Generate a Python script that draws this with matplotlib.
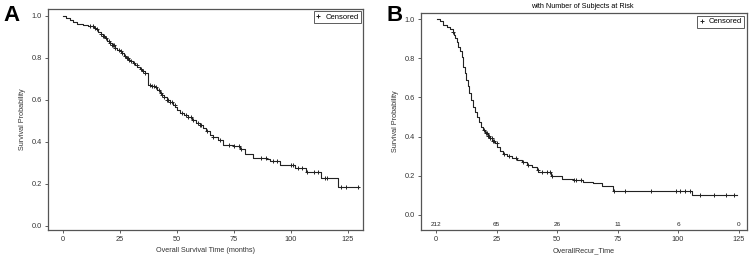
import matplotlib
matplotlib.use("Agg")
import matplotlib.pyplot as plt
import numpy as np

plt.rcParams['font.family'] = ['Liberation Sans', 'DejaVu Sans']

# panel A: overall survival (step curve)
os_time = [0, 1.5, 3, 4.5, 6, 8.8, 11, 12.5, 13.5, 14.6, 15.5, 16.5, 17.5, 18.5, 19.5, 20.5,
           21.5, 22.7, 23.8, 24.9, 25.8, 26.8, 27.8, 28.8, 29.8, 30.7, 31.7, 32.6, 33.6,
           34.6, 35.8, 37.3, 38.7, 40.2, 41.3, 42.4, 43.4, 44.4, 45.4, 46.8, 48.2, 49.2,
           50.2, 51.2, 53.0, 54.8, 56.6, 58.5, 60.0, 61.4, 62.5, 64.3, 66.0, 68.0, 70.2,
           74.6, 77.5, 79.7, 83.3, 89.2, 90.6, 95.0, 101.6, 106.7, 113.3, 120.6, 129.8]
os_surv = [1.0, 0.99, 0.979, 0.970, 0.960, 0.957, 0.953, 0.950, 0.944, 0.935, 0.925, 0.913,
           0.903, 0.893, 0.882, 0.871, 0.860, 0.847, 0.839, 0.831, 0.821, 0.810, 0.799,
           0.791, 0.783, 0.776, 0.765, 0.755, 0.744, 0.735, 0.725, 0.672, 0.667, 0.661,
           0.647, 0.632, 0.621, 0.611, 0.600, 0.588, 0.576, 0.563, 0.550, 0.537, 0.528,
           0.518, 0.504, 0.489, 0.477, 0.465, 0.450, 0.433, 0.421, 0.409, 0.385, 0.377,
           0.365, 0.341, 0.322, 0.317, 0.306, 0.290, 0.274, 0.255, 0.226, 0.182, 0.182]
os_cens = [12, 13, 14, 15, 16.5, 17.5, 18, 19, 20, 20.5, 21.5, 22, 22.5, 23, 24.5, 25.5, 26,
           27, 28, 28.5, 29, 30, 31, 32.5, 34, 35, 36, 38, 39, 40, 41, 42, 43, 43.5, 44.5,
           45.5, 46, 47, 48, 49, 52, 54, 55, 56, 57, 59, 60, 60.5, 63, 66, 69, 73, 75, 77,
           78, 87, 89, 92, 94, 100, 101, 103, 105, 107, 110, 112, 115, 116, 122, 124, 129.5]

# panel B: recurrence
rc_time = [0.5, 1.5, 3.0, 4.5, 5.8, 6.9, 7.4, 7.9, 8.5, 9.2, 9.9, 10.6, 11.0, 11.3, 11.9,
           12.4, 13.1, 13.8, 14.6, 15.4, 16.1, 16.8, 17.6, 18.5, 19.4, 20.3, 21.3, 22.3,
           23.3, 24.4, 25.4, 26.5, 27.8, 29.2, 31.3, 33.4, 35.4, 37.5, 39.5, 41.6, 42.3,
           47.5, 52.0, 56.8, 60.9, 65.0, 68.5, 73.3, 105.7, 124.3]
rc_surv = [1.0, 0.99, 0.971, 0.958, 0.949, 0.937, 0.92, 0.903, 0.882, 0.860, 0.835, 0.809,
           0.784, 0.758, 0.724, 0.690, 0.656, 0.622, 0.588, 0.553, 0.528, 0.502, 0.477,
           0.451, 0.434, 0.417, 0.405, 0.392, 0.379, 0.366, 0.345, 0.324, 0.313, 0.303,
           0.292, 0.281, 0.268, 0.255, 0.243, 0.230, 0.221, 0.201, 0.184, 0.179, 0.170,
           0.162, 0.145, 0.124, 0.099, 0.099]
rc_cens = [7, 20, 20.5, 21, 21.5, 22, 22.5, 23, 23.5, 24, 25, 28, 30, 33, 36, 38, 42, 44, 46,
           47, 48, 57, 58, 60, 73.5, 78, 89, 99, 101, 103, 105, 109, 115, 120, 123]
risk_t = [0, 25, 50, 75, 100, 125]
risk_n = [212, 65, 26, 11, 6, 0]

col = '#222222'


def surv_at(times, surv, t):
    i = np.searchsorted(times, t, side='right') - 1
    return np.array(surv)[np.clip(i, 0, len(surv) - 1)]


def km_panel(ax, times, surv, cens, xlabel):
    ax.step(times, surv, where='post', color=col, lw=0.8)
    ax.plot(cens, surv_at(times, surv, cens), '+', color=col, ms=3.5, mew=0.7,
            label='Censored')
    ax.set_xticks([0, 25, 50, 75, 100, 125])
    ax.set_yticks([0.0, 0.2, 0.4, 0.6, 0.8, 1.0])
    ax.set_yticklabels(['0.0', '0.2', '0.4', '0.6', '0.8', '1.0'])
    ax.tick_params(labelsize=5.3, length=2.5, width=0.6, color='#444444',
                   labelcolor='#333333', pad=2)
    for s in ax.spines.values():
        s.set_color('#555555')
        s.set_linewidth(0.9)
    ax.set_ylabel('Survival Probability', fontsize=5.2, labelpad=4, color='#333333')
    ax.set_xlabel(xlabel, fontsize=5.2, labelpad=3, color='#333333')
    leg = ax.legend(loc='upper right', fontsize=5.5, frameon=True, fancybox=False,
                    handlelength=0.6, handletextpad=0.6, borderpad=0.3,
                    borderaxespad=0.3, markerscale=1.0)
    leg.get_frame().set_edgecolor('#333333')
    leg.get_frame().set_linewidth(0.7)


fig = plt.figure(figsize=(7.5, 2.61), dpi=100)

axA = fig.add_axes([0.064, 0.119, 0.420, 0.847])
km_panel(axA, os_time, os_surv, os_cens, 'Overall Survival Time (months)')
axA.set_xlim(-6.6, 131.6)
axA.set_ylim(-0.021, 1.033)

axB = fig.add_axes([0.561, 0.119, 0.4347, 0.830])
km_panel(axB, rc_time, rc_surv, rc_cens, 'OverallRecur_Time')
axB.set_xlim(-6.3, 128.4)
axB.set_ylim(-0.077, 1.03)
for t, n in zip(risk_t, risk_n):
    axB.text(t, -0.062, str(n), fontsize=4.6, ha='center', va='bottom', color=col)
fig.text(0.777, 0.975, 'with Number of Subjects at Risk', fontsize=5.2, ha='center',
         va='center')

fig.text(0.005, 0.94, 'A', fontsize=16, fontweight='bold', va='center')
fig.text(0.515, 0.94, 'B', fontsize=16, fontweight='bold', va='center')

fig.savefig('out.png', dpi=100, facecolor='white')
